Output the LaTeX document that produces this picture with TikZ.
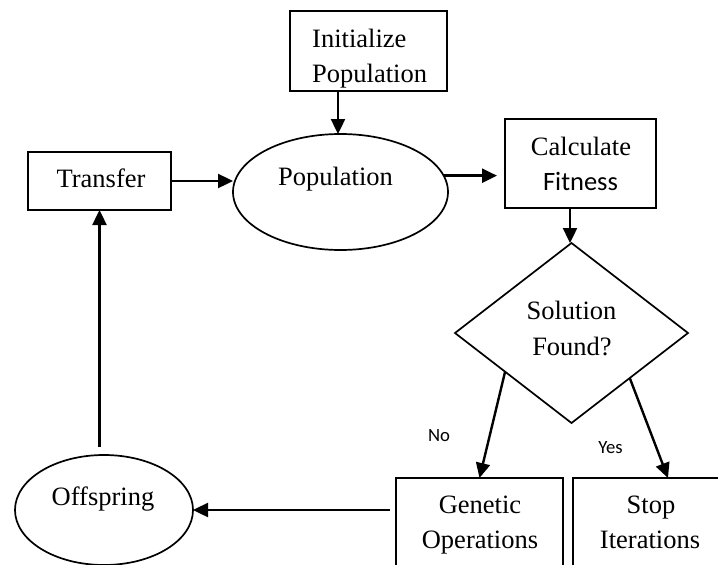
\documentclass[tikz,border=0pt]{standalone}
\usepackage{fontspec}
\setmainfont{Liberation Serif}
\newfontfamily\calibrifont{Carlito}
\usetikzlibrary{shapes.geometric,arrows.meta,calc}
\begin{document}
\begin{tikzpicture}[x=1pt,y=-1pt,
  boxnode/.style={draw,line width=1.7pt,rectangle,inner sep=0pt,outer sep=0pt},
  ellnode/.style={draw,line width=1.7pt,ellipse,inner sep=0pt,outer sep=0pt},
  dianode/.style={draw,line width=1.7pt,diamond,inner sep=0pt,outer sep=0pt},
  txt/.style={inner sep=0pt,font=\fontsize{26.5}{35}\selectfont},
  ctxt/.style={inner sep=0pt,font=\calibrifont\fontsize{26.5}{35}\selectfont},
  lbl/.style={inner sep=0pt,font=\calibrifont\fontsize{18.7}{22}\selectfont},
  arr/.style={line width=2.4pt,-{Triangle[length=15pt,width=14pt]}}]
\useasboundingbox (0,0) rectangle (718,565);
\clip (0,0) rectangle (718,565);
% shapes
\node[boxnode,minimum width=157pt,minimum height=80pt] (init) at (368.5,51) {};
\node[boxnode,minimum width=143pt,minimum height=58pt] (transfer) at (99.5,181) {};
\node[boxnode,minimum width=151pt,minimum height=89pt] (calc) at (580.5,163.5) {};
\node[ellnode,minimum width=215pt,minimum height=116pt] (pop) at (340.5,192) {};
\node[dianode,minimum width=233pt,minimum height=180pt,aspect=1.29] (dia) at (571.5,333) {};
\node[boxnode,minimum width=167pt,minimum height=100pt] (gen) at (479.5,528) {};
\node[boxnode,minimum width=155pt,minimum height=100pt] (stop) at (650.5,528) {};
\node[ellnode,minimum width=178pt,minimum height=110pt] (off) at (104,510) {};
% texts
\node[txt,anchor=base west] (t1) at (312,47) {Initialize};
\node[txt,anchor=base west] (t2) at (312,82) {Population};
\node[txt,anchor=base] (t3) at (101,187) {Transfer};
\node[txt,anchor=base] (t4) at (335.5,185) {Population};
\node[txt,anchor=base] (t5) at (581,155) {Calculate};
\node[ctxt,anchor=base] (t6) at (580.5,190) {Fitness};
\node[txt,anchor=base] (t7) at (571.5,319) {Solution};
\node[txt,anchor=base] (t8) at (572,355) {Found?};
\node[txt,anchor=base] (t9) at (480,513) {Genetic};
\node[txt,anchor=base] (t10) at (480,548) {Operations};
\node[txt,anchor=base] (t11) at (651,513) {Stop};
\node[txt,anchor=base] (t12) at (650,548) {Iterations};
\node[txt,anchor=base] (t13) at (103,505) {Offspring};
\node[lbl,anchor=base] (no) at (439,441) {No};
\node[lbl,anchor=base] (yes) at (610.5,453) {Yes};
% connectors
\draw[arr] ($(pop.north |- init.south)+(-2.5,0)$) -- ($(pop.north)+(-2.5,0)$);
\draw[arr] (transfer.east) -- (transfer.east -| pop.west);
\draw[arr] (pop.9) -- ($(calc.west |- pop.9)+(-8,0)$);
\draw[arr] ($(dia.north |- calc.south)+(-1.5,0)$) -- ($(dia.north)+(-1.5,0)$);
\draw[arr] ($(dia.west)!0.43!(dia.south)$) -- (gen.north);
\draw[arr] ($(dia.south)!0.5!(dia.east)$) -- ($(stop.north)+(17.5,0)$);
\draw[arr] ($(gen.west |- off.east)+(-6,0)$) -- (off.east);
\draw[arr] ($(transfer.south |- off.north)+(0,-8)$) -- (transfer.south);
\end{tikzpicture}
\end{document}
